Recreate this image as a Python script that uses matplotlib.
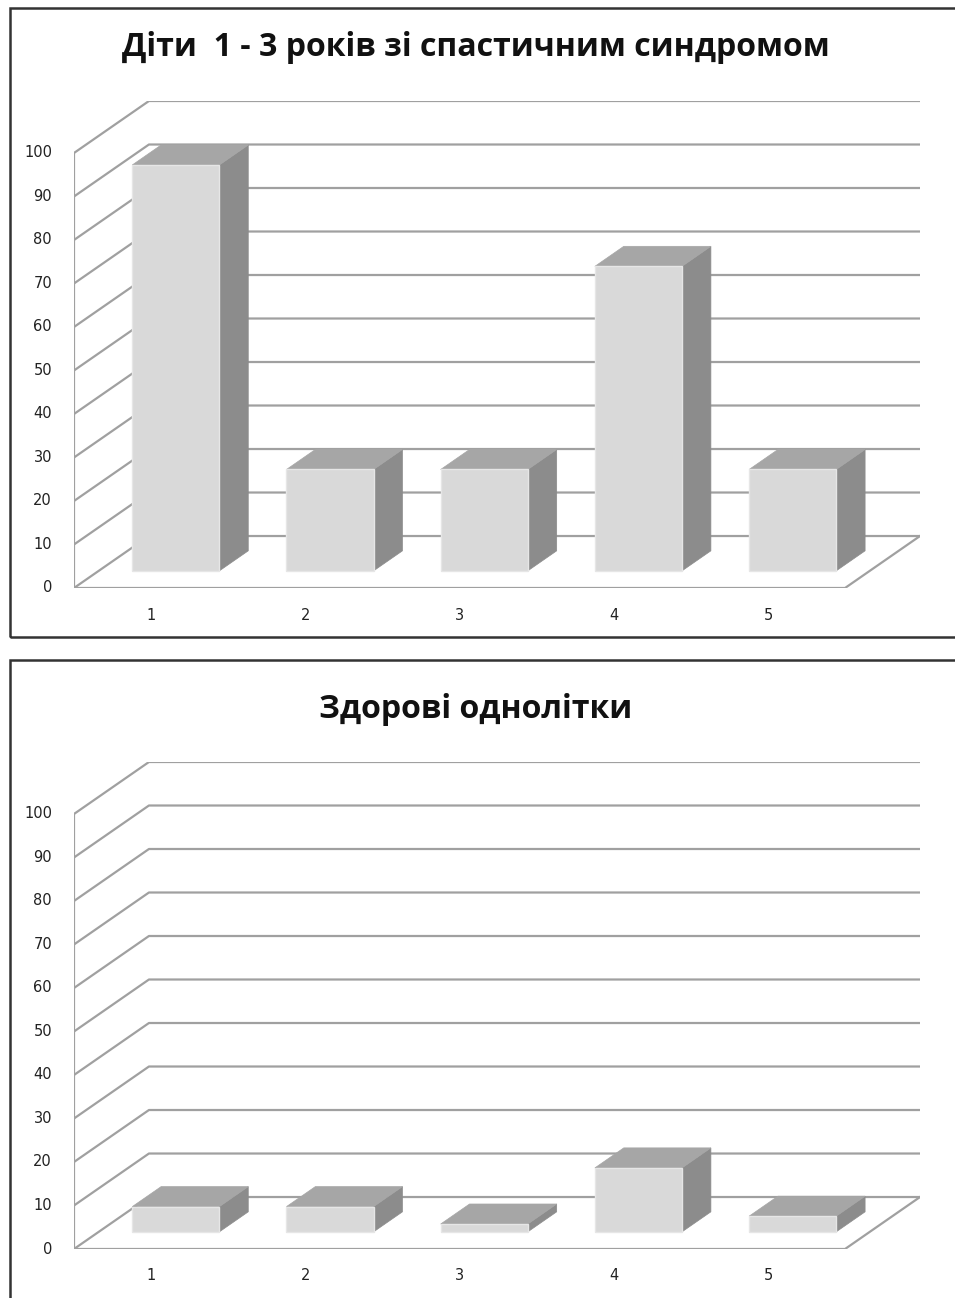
import matplotlib
matplotlib.use("Agg")
import matplotlib.pyplot as plt
from matplotlib.patches import Polygon, Rectangle

categories = ["1", "2", "3", "4", "5"]
spastic = [93.3, 23.3, 23.3, 70.0, 23.3]
healthy = [5.8, 5.8, 1.8, 14.7, 3.6]
titles = ["Діти  1 - 3 років зі спастичним синдромом", "Здорові однолітки"]
yticks = list(range(0, 101, 10))

# depth of the 3d box (in category / value units) and bar geometry
DX = 0.486
DY = 11.95
BAR_W = 0.565
BAR_OFF = 0.33
BAR_DEPTH = 0.385

GRID = "#a0a0a0"
FRONT = "#d9d9d9"
TOP = "#a6a6a6"
SIDE = "#8c8c8c"

W, H = 955, 1298
fig = plt.figure(figsize=(W / 100, H / 100), dpi=100)


def draw_panel(ax, values):
    n = len(values)
    x0, x1 = 0.5, n + 0.5
    ax.set_xlim(x0, x1 + DX)
    ax.set_ylim(0, 100 + DY)
    ax.axis("off")

    # walls and gridlines
    ax.plot([x0, x0], [0, 100], color=GRID, lw=1.6, zorder=1)
    for v in yticks:
        ax.plot([x0, x0 + DX, x1 + DX], [v, v + DY, v + DY], color=GRID, lw=1.6, zorder=1)
        ax.annotate(str(v), (x0, v), xytext=(-22, 0), textcoords="offset pixels",
                    ha="right", va="center", fontsize=10.5, color="#222222")
    ax.plot([x0, x1, x1 + DX], [0, 0, DY], color=GRID, lw=1.6, zorder=1)

    # bars
    for i, v in enumerate(values):
        c = i + 1
        xl = c - BAR_W / 2 + BAR_OFF * DX
        xr = c + BAR_W / 2 + BAR_OFF * DX
        yb = BAR_OFF * DY
        yt = yb + v
        ddx, ddy = BAR_DEPTH * DX, BAR_DEPTH * DY
        ax.add_patch(Polygon([(xr, yb), (xr + ddx, yb + ddy), (xr + ddx, yt + ddy), (xr, yt)],
                             closed=True, facecolor=SIDE, edgecolor=SIDE, lw=0.5, zorder=3))
        ax.add_patch(Polygon([(xl, yt), (xr, yt), (xr + ddx, yt + ddy), (xl + ddx, yt + ddy)],
                             closed=True, facecolor=TOP, edgecolor=TOP, lw=0.5, zorder=3))
        ax.add_patch(Rectangle((xl, yb), xr - xl, v, facecolor=FRONT,
                               edgecolor="#e6e6e6", lw=1.0, zorder=4))
        ax.annotate(categories[i], (c, 0), xytext=(0, -27), textcoords="offset pixels",
                    ha="center", va="center", fontsize=10.5, color="#222222")


# chart frames: the lower one runs off the bottom edge
frames = [(8, 637), (660, 1320)]
panels = [(0, spastic), (661, healthy)]
for k, (shift, vals) in enumerate(panels):
    front0 = 588 + shift
    top = 101 + shift
    ax = fig.add_axes([74 / W, (H - front0) / H, 846 / W, (front0 - top) / H])
    draw_panel(ax, vals)

    ftop, fbot = frames[k]
    fig.add_artist(Rectangle((10 / W, (H - fbot) / H), 960 / W, (fbot - ftop) / H,
                             transform=fig.transFigure, fill=False,
                             edgecolor="#333333", lw=1.8))
    fig.text(476 / W, 1 - (48 + shift) / H, titles[k], ha="center", va="center",
             fontsize=23, fontweight="bold", family="Open Sans", color="#111111")

fig.savefig("out.png", dpi=100, facecolor="white")
